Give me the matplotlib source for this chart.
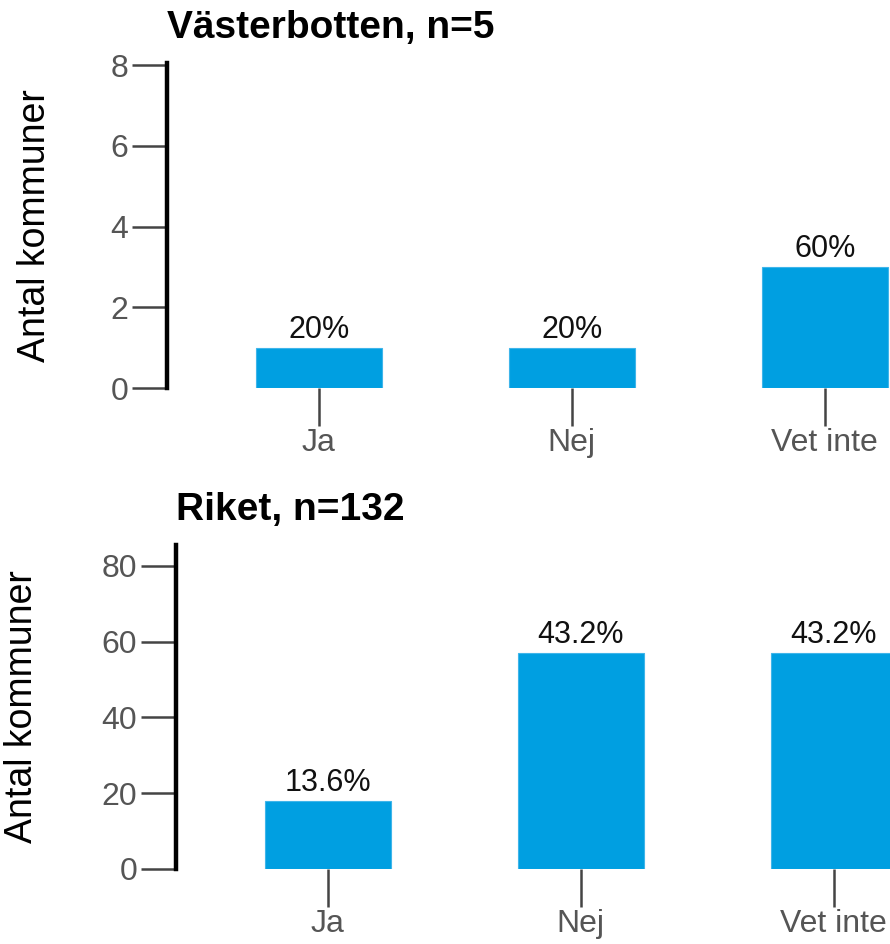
import numpy as np
import matplotlib.pyplot as plt

plt.rcParams['font.family'] = ['Liberation Sans', 'DejaVu Sans']

categories = ["Ja", "Nej", "Vet inte"]
vb_counts = [1, 1, 3]
vb_labels = ["20%", "20%", "60%"]
riket_counts = [18, 57, 57]
riket_labels = ["13.6%", "43.2%", "43.2%"]

bar_color = "#009fe1"
grey = "#444444"

W, H = 890, 944
fig = plt.figure(figsize=(W / 100, H / 100), dpi=100)

px_per_cat = 253


def make_panel(left_px, top_px, bottom_px, ylim, yticks, counts, labels, title, title_y, ylabel_x):
    # axes placed from pixel positions; right side runs past the figure edge
    xmin, xmax = -0.6, 2.6
    width_px = (xmax - xmin) * px_per_cat
    ax = fig.add_axes([left_px / W, 1 - bottom_px / H, width_px / W, (bottom_px - top_px) / H])
    x = np.arange(len(categories))
    ax.bar(x, counts, width=0.5, color=bar_color, edgecolor="#3fb5ea", linewidth=0.8)
    for xi, c, lab in zip(x, counts, labels):
        ax.annotate(lab, (xi, c), xytext=(0, 2), textcoords="offset points",
                    ha="center", va="bottom", fontsize=22, color="#111111")
    ax.set_xlim(xmin, xmax)
    ax.set_ylim(*ylim)
    ax.set_yticks(yticks)
    ax.set_xticks(x)
    ax.set_xticklabels(categories)
    for s in ["top", "right", "bottom"]:
        ax.spines[s].set_visible(False)
    ax.spines["left"].set_linewidth(3.2)
    ax.spines["left"].set_color("black")
    ax.tick_params(axis="y", length=25, width=1.8, color=grey, labelcolor="#555555",
                   labelsize=23, pad=3)
    ax.tick_params(axis="x", length=27, width=1.8, color=grey, labelcolor="#555555",
                   labelsize=23, pad=2)
    fig.text(left_px / W, 1 - title_y / H, title, fontsize=28, fontweight="bold",
             ha="left", va="center")
    fig.text(ylabel_x / W, 1 - (top_px + bottom_px) / 2 / H, "Antal kommuner",
             rotation=90, fontsize=27, ha="center", va="center")
    return ax


make_panel(167, 63, 388, (0, 8.05), [0, 2, 4, 6, 8], vb_counts, vb_labels,
           "Västerbotten, n=5", 28, 35)
make_panel(176, 545, 869, (0, 85.5), [0, 20, 40, 60, 80], riket_counts, riket_labels,
           "Riket, n=132", 510, 22)

fig.savefig("out.png", dpi=100)
